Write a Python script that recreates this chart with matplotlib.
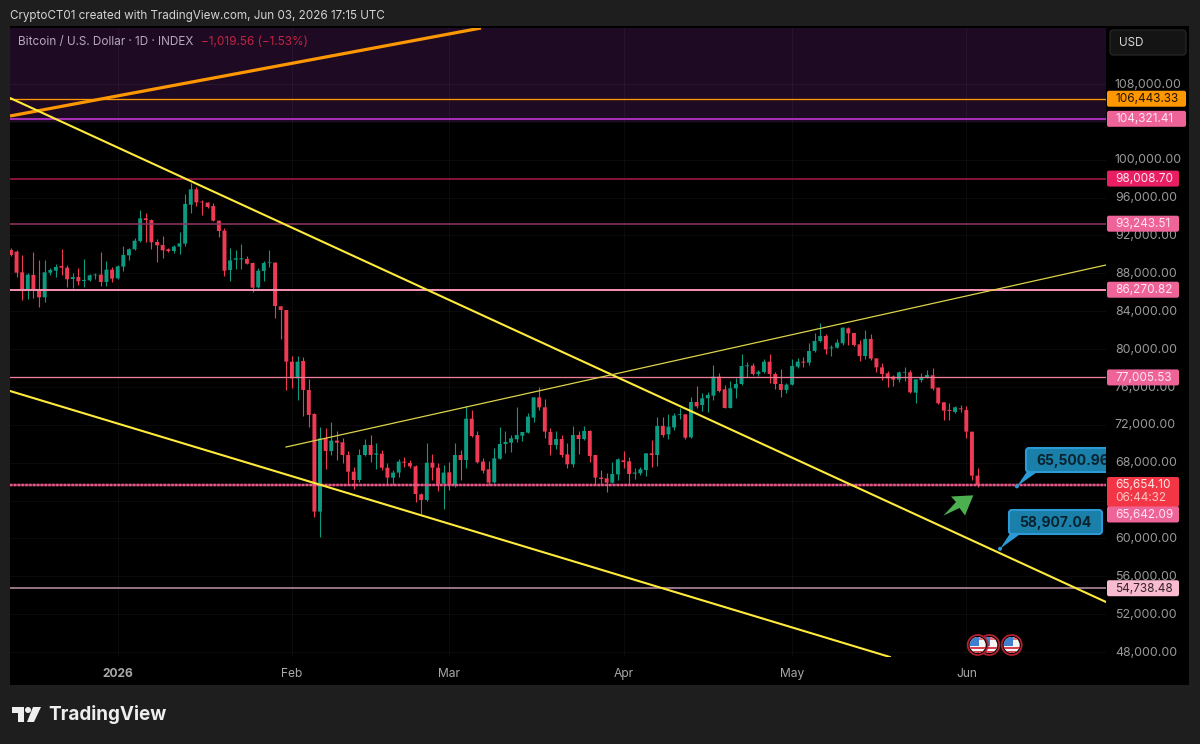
import numpy as np
import matplotlib
matplotlib.use("Agg")
import matplotlib.pyplot as plt
from matplotlib.patches import Rectangle, Polygon, Circle, FancyBboxPatch
from matplotlib.ticker import FixedLocator, FixedFormatter
from matplotlib.transforms import ScaledTranslation

plt.rcParams['font.family'] = ['Inter', 'DejaVu Sans']

# ---- data: daily BTC/USD candles, first candle 19 days before 1 Jan 2026 ----
first_day = -19
opens = [90470,90290,88110,86240,87830,86240,85470,88070,88280,88780,88600,87400,87610,87190,87260,87790,87860,87090,88390,87470,
 88710,89900,90540,91420,93810,93630,91310,90990,90540,90360,90820,91140,95250,96870,95570,95470,95110,93560,92510,88350,
 89440,89480,89520,89090,86520,88250,89130,89130,84520,84130,
 78670,76910,78740,75680,73140,62830,70570,69230,70330,70150,68810,67050,66170,68810,69870,68850,68950,67470,66420,66950,
 68110,67970,67610,64660,64060,68000,67470,65780,66980,65640,68810,68280,72650,70920,68110,67300,65920,68420,69970,70110,
 70470,70850,71170,72760,74900,73850,71240,69870,70500,68880,67830,70920,70500,71350,68810,66420,66350,
 65890,66770,68250,68140,66840,66880,67230,68990,68810,71880,71000,71730,73070,73110,70680,74410,74090,74800,75080,77090,
 75750,73780,75850,76310,78180,78250,77370,77580,78670,77370,76310,75680,76240,78140,78670,78570,79800,80850,81380,80080,
 80150,80610,82190,81700,80500,79270,81070,79020,78070,77440,77090,76770,77510,77540,75400,76730,76980,77230,75920,74380,
 73570,73350,73740,73570,71280,66630]
highs = [90640,90470,89940,88070,90290,89410,89410,88530,88990,90540,88880,88000,88530,89480,87900,88000,90290,89300,88700,88880,
 90890,90640,91700,94690,94340,93700,91590,91940,90640,90990,92330,96380,97510,97160,95750,95500,95470,93630,92750,90640,
 90470,91100,89830,89160,88530,89340,90470,89160,84600,84130,
 79300,79300,79200,76840,73210,71730,71630,72260,71380,70570,69230,67580,69410,70500,70920,70110,69340,67930,67230,68350,
 68640,68280,67760,64830,70040,68880,67930,67760,68110,70110,69340,73990,73570,71380,68460,68210,69520,71800,71350,70920,
 73920,71280,73210,74900,75960,74690,71630,71380,70920,70040,71880,71350,71880,71450,68810,67230,66880,
 68110,68460,69270,68640,67400,67580,68990,70400,72790,72860,73140,73280,73740,73140,74900,76100,75330,75500,78320,77440,
 76210,76660,76910,79480,78670,78490,77790,78950,79480,77610,77860,76380,78920,79090,79200,80610,81730,82790,81590,80430,
 81030,82370,82300,81730,80960,82020,81560,79090,78570,77720,77260,77690,78070,77790,76800,77510,77790,77970,76030,74450,
 74270,74020,74090,73990,71280,67400]
lows = [89830,87580,85180,85260,85360,84410,85010,87830,87580,87830,86520,86420,86770,86590,87190,87370,86660,86700,87120,87370,
 88280,89410,90470,91350,91350,90570,89230,89590,90220,90110,90010,90920,94410,95110,94160,94940,93530,91870,87750,87230,
 88420,88460,88990,86060,86490,87230,88700,83250,81030,75680,
 75850,74620,72930,71800,62300,60190,67330,68810,68280,67930,65640,65190,66000,68740,68110,67300,67230,65640,65640,66450,
 67580,67400,63880,62540,64000,66170,65040,63070,65110,65470,66170,67400,70750,67930,66880,65640,65820,68350,68990,69160,
 70220,70290,71100,72330,73570,70570,68810,69410,68640,67400,67510,68920,70400,68110,65640,65640,64940,
 65820,66170,67400,65750,66240,66700,66630,67580,67690,70750,70470,71450,72580,70470,70570,73740,73500,73320,74620,75500,
 73740,73740,74800,76210,77090,77260,77160,77440,76450,75750,74970,75330,76210,78040,78070,78320,79730,80780,79450,79270,
 80080,80430,80430,80330,78780,78920,78850,77610,76730,76030,76130,76560,76660,75400,74270,76560,76900,75680,74200,72510,
 72510,73210,73390,70570,66170,65470]
closes = [89940,88070,86240,87860,86240,85470,88110,88350,88670,88600,87370,87610,87160,87300,87790,87860,87090,88390,87440,88740,
 89940,90540,91450,93810,93630,91280,90960,90430,90360,90820,91170,95330,96870,95500,95500,95010,93560,92470,88280,89370,
 89590,89590,89020,86490,88280,89090,89200,84550,84130,78670,
 76910,78670,75680,73040,62830,70570,69230,70330,70110,68810,67050,66170,68810,69870,68810,68990,67470,66420,66950,68110,
 68000,67610,64690,64060,68000,67470,65750,66950,65640,68810,68280,72650,70820,68040,67160,65890,68460,69970,70190,70570,
 70920,71240,72860,74900,73850,71280,69870,70500,68810,67830,70920,70500,71350,68710,66420,66280,65890,
 66810,68350,68070,66810,66950,67300,68990,68810,71880,70920,71800,72970,73140,70640,74410,73950,74800,75150,77090,75570,
 73780,75850,76310,78210,78280,77370,77610,78670,77370,76310,75680,76240,78210,78670,78570,79800,80850,81380,79970,80180,
 80680,82260,81660,80430,79270,81070,78990,78070,77370,76910,76770,77540,77580,75430,76800,76980,77260,75820,74270,73500,
 73460,73850,73640,71280,66630,65650]

level_prices = [106443.33, 104321.41, 98008.70, 93243.51, 86270.82, 77005.53, 65642.09, 54738.48]
level_colors = ['#ff9800', '#a32fb5', '#7f1437', '#8a3560', '#f48fb1', '#ef7c98', '#e8598a', '#b78fa0']
level_widths = [1.3, 2.0, 2.0, 1.6, 2.0, 1.3, 2.4, 1.6]

price_ticks = [48000, 52000, 56000, 60000, 64000, 68000, 72000, 76000, 80000, 84000,
               88000, 92000, 96000, 100000, 104000, 108000]
hidden_ticks = [64000, 104000]
month_days = [0, 31, 59, 90, 120, 151]
month_labels = ['2026', 'Feb', 'Mar', 'Apr', 'May', 'Jun']

orange_trend = ([-19.16, 64.64], [104620, 113915])
yellow_down_a = ([-19.16, 175.85], [106521, 53284])
yellow_down_b = ([-19.16, 137.4], [75572, 47474])
yellow_up = ([29.95, 175.85], [69656, 88881])

# ---- layout helpers ----
W, H = 1200, 744
PX_PER_DAY = 5.62
PX_PER_PRICE = 0.009467
L, R, T, B = 10, 1106, 28, 657
def px_x(day): return 117.7 + day * PX_PER_DAY
def px_y(p): return 84 + (108000 - p) * PX_PER_PRICE
def day_at(x): return (x - 117.7) / PX_PER_DAY
def price_at(y): return 108000 - (y - 84) / PX_PER_PRICE

fig = plt.figure(figsize=(W / 100, H / 100), dpi=100, facecolor='#1e1e1e')
def full_axes(z):
    a = fig.add_axes([0, 0, 1, 1], zorder=z)
    a.set_xlim(0, W); a.set_ylim(H, 0); a.axis('off'); a.patch.set_alpha(0)
    return a
bg = full_axes(0)
bg.add_patch(Rectangle((10, 26), 1179, 659, fc='#000000', ec='none'))
ax = fig.add_axes([L / W, 1 - B / H, (R - L) / W, (B - T) / H], zorder=1, facecolor='#000000')
ov = full_axes(2)
ax.set_xlim(day_at(L), day_at(R))
ax.set_ylim(price_at(B), price_at(T))
for s in ax.spines.values():
    s.set_visible(False)

# band and grid
ax.axhspan(price_at(122), price_at(T), color='#1f0a24', lw=0, zorder=0)
ax.yaxis.tick_right()
ax.yaxis.set_major_locator(FixedLocator(price_ticks))
ax.yaxis.set_major_formatter(FixedFormatter(['' if t in hidden_ticks else f'{t:,.2f}' for t in price_ticks]))
ax.xaxis.set_major_locator(FixedLocator(month_days))
ax.xaxis.set_major_formatter(FixedFormatter(month_labels))
ax.tick_params(axis='y', length=0, pad=6.3, labelsize=8.9, labelcolor='#9a9a9a')
ax.tick_params(axis='x', length=0, pad=7.7, labelsize=8.7, labelcolor='#a8a8a8')
ax.get_xticklabels()[0].set_fontweight('bold')
ax.grid(True, color='#ffffff', alpha=0.045, lw=0.7, zorder=0.5)
ax.set_axisbelow(True)
up_shift = ScaledTranslation(0, 0.9 / 100, fig.dpi_scale_trans)
for lab in ax.get_yticklabels():
    lab.set_transform(lab.get_transform() + up_shift)

# candles
days = np.arange(first_day, first_day + len(opens))
o, h, l, c = map(np.array, (opens, highs, lows, closes))
up = c >= o
red, green = '#ee3a52', '#0c9a80'
cols = np.where(up, green, red)
ax.vlines(days, l, h, colors=cols, lw=0.8, zorder=2)
bars = ax.bar(days, np.abs(c - o), bottom=np.minimum(o, c), width=0.7, color=cols, lw=0, zorder=3)
for b in bars:
    b.set_snap(False)

# horizontal levels
for p, col, lw_px in zip(level_prices, level_colors, level_widths):
    if p == 65642.09:
        ax.axhline(p, color=col, lw=lw_px * 0.72, alpha=0.55, zorder=4)
        ax.axhline(p, color=col, lw=lw_px * 0.72, ls=(0, (1, 0.6)), zorder=4)
    else:
        ax.axhline(p, color=col, lw=lw_px * 0.72, zorder=4)

# trend lines
ax.plot(*orange_trend, color='#ff9800', lw=2.3, zorder=5, solid_capstyle='butt')
ax.plot(*yellow_down_a, color='#ffeb3b', lw=1.5, zorder=5)
ax.plot(*yellow_down_b, color='#ffeb3b', lw=1.5, zorder=5)
ax.plot(*yellow_up, color='#dcd24a', lw=0.9, zorder=5)

# header and footer
ov.text(10, 15.5, 'CryptoCT01 created with TradingView.com, Jun 03, 2026 17:15 UTC',
        color='#d4d4d4', fontsize=8.4, va='center', ha='left')
ov.text(18, 42, 'Bitcoin / U.S. Dollar · 1D · INDEX', color='#b5a9ba', fontsize=8.45, va='center')
ov.text(201, 42, '−1,019.56 (−1.53%)', color='#c4233f', fontsize=8.5, va='center')
ov.text(48, 715, 'TradingView', color='#eeeeee', fontsize=13.6, fontweight='bold', va='center')
ov.add_patch(Polygon([(12, 707), (24, 707), (24, 722), (18, 722), (18, 713), (12, 713)], fc='#eeeeee', ec='none'))
ov.add_patch(Circle((28, 710), 3, fc='#eeeeee', ec='none'))
ov.add_patch(Polygon([(33, 707), (41, 707), (34, 722), (27, 722)], fc='#eeeeee', ec='none'))

# USD box
ov.add_patch(FancyBboxPatch((1110, 30), 76, 25, boxstyle='round,pad=0,rounding_size=3', fc='#141414', ec='#2a2a2a', lw=0.8))
ov.text(1119, 43, 'USD', color='#d8d8d8', fontsize=8.4, va='center')

# price tags
def tag(p, text, fc, tc, x1=1179, yc=None, hgt=16):
    y = px_y(p) if yc is None else yc
    ov.add_patch(FancyBboxPatch((1107, y - hgt / 2), x1 - 1107, hgt, boxstyle='round,pad=0,rounding_size=2', fc=fc, ec='none'))
    ov.text(1115, y + 0.3, text, color=tc, fontsize=8.5, va='center', ha='left')
pink = '#ee6398'
tag(106443.33, '106,443.33', '#ff9800', '#241400', x1=1186)
tag(104321.41, '104,321.41', pink, '#ffe6ef', x1=1186)
tag(98008.70, '98,008.70', '#e91e63', '#ffe6ef')
tag(93243.51, '93,243.51', pink, '#ffe6ef')
tag(86270.82, '86,270.82', pink, '#ffe6ef')
tag(77005.53, '77,005.53', pink, '#ffe6ef')
tag(54738.48, '54,738.48', '#f8bbd0', '#33232a')
ov.add_patch(FancyBboxPatch((1107, 477), 72, 30, boxstyle='round,pad=0,rounding_size=2', fc='#f23645', ec='none'))
ov.text(1115, 484.5, '65,654.10', color='#ffe6e6', fontsize=8.5, va='center')
ov.text(1115, 498, '06:44:32', color='#ffc6c6', fontsize=8.5, va='center')
tag(65642.09, '65,642.09', pink, '#ffe6ef', yc=514.5)

# callouts
def callout(day, price, text, bx, by, bw, bh, tx):
    ax_clip = ax.bbox
    xa, ya = px_x(day), px_y(price)
    blue, edge = '#1a7fa9', '#2b9ad6'
    tail = Polygon([(xa, ya), (bx + 2, by + bh - 2), (bx + 14, by + bh - 2)], fc=edge, ec='none')
    ov.add_patch(tail)
    box = FancyBboxPatch((bx, by), bw, bh, boxstyle='round,pad=0,rounding_size=3', fc=blue, ec=edge, lw=1.5)
    ov.add_patch(box)
    box.set_clip_box(ax_clip)
    t = ov.text(tx, by + bh / 2 + 0.5, text, color='#08222e', fontsize=10, fontweight='bold', va='center', ha='left')
    t.set_clip_on(True)
    t.set_clip_box(ax_clip)
    ov.add_patch(Circle((xa, ya), 2, fc=edge, ec='none'))
callout(160, 65500.96, '65,500.96', 1026, 448, 100, 24, 1036)
callout(157, 58907.04, '58,907.04', 1009, 510, 93, 24, 1019)

# green arrow
ov.add_patch(Polygon([(973.3, 495.3), (965, 515.5), (959.5, 508), (943.3, 515.7), (956, 502), (951, 496.5)], fc='#4caf50', ec='none'))

# event flags
def flag(cx, cy=645):
    ov.add_patch(Circle((cx, cy), 10, fc='#000000', ec='#b3202f', lw=1.3))
    disc = Circle((cx, cy), 8, fc='#f4f4f4', ec='none')
    ov.add_patch(disc)
    parts = [Rectangle((cx - 8, cy - 8), 16, 3, fc='#e4717a', ec='none'),
             Rectangle((cx - 8, cy + 2), 16, 2.4, fc='#d9404f', ec='none'),
             Rectangle((cx - 8, cy + 6), 16, 3, fc='#d9404f', ec='none'),
             Rectangle((cx - 8, cy - 8), 9, 9, fc='#3f7fd0', ec='none')]
    for q in parts:
        ov.add_patch(q)
        q.set_clip_path(disc)
flag(989.3); flag(977.7); flag(1011.7)

fig.savefig('out.png', dpi=100, facecolor=fig.get_facecolor())
